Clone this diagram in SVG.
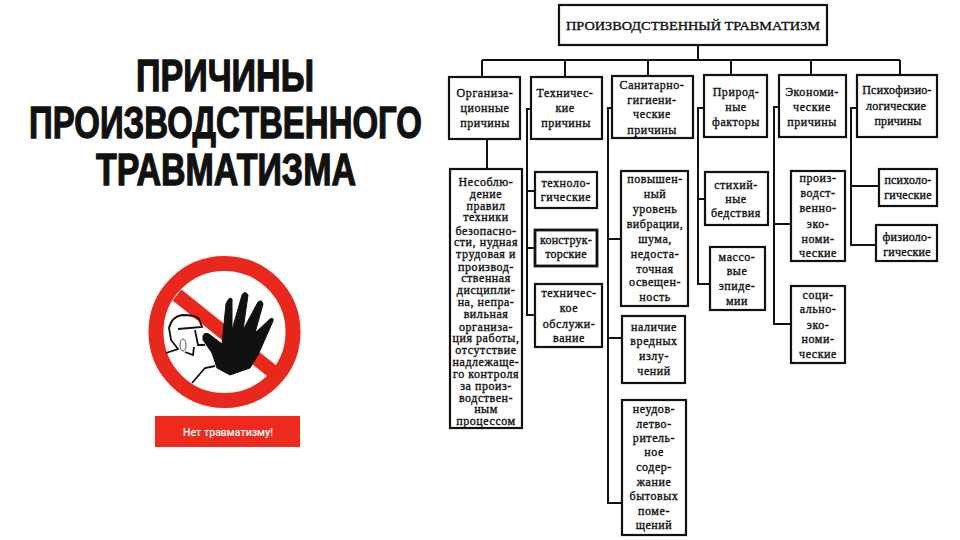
<svg xmlns="http://www.w3.org/2000/svg" width="960" height="540" viewBox="0 0 960 540">
<style>
.b{fill:#fff;stroke:#111;stroke-width:2.200}
.c{fill:none;stroke:#111;stroke-width:2}
.t{font-family:"Liberation Serif","Times New Roman",serif;font-size:12px;letter-spacing:.55px;fill:#111;text-anchor:middle;stroke:#111;stroke-width:.35}
.h{font-family:"Liberation Sans",Arial,sans-serif;font-weight:bold;font-size:45px;fill:#111;stroke:#111;stroke-width:1.300}
</style>
<rect width="960" height="540" fill="#fff"/>
<g id="title">
<text class="h" x="136" y="91" textLength="178" lengthAdjust="spacingAndGlyphs">ПРИЧИНЫ</text>
<text class="h" x="29" y="138" textLength="393" lengthAdjust="spacingAndGlyphs">ПРОИЗВОДСТВЕННОГО</text>
<text class="h" x="96" y="185" textLength="260" lengthAdjust="spacingAndGlyphs">ТРАВМАТИЗМА</text>
</g>
<g id="sign">
<path d="M177 295L277 375" stroke="#e8281c" stroke-width="14" fill="none"/>
<circle cx="224.500" cy="332" r="68.500" fill="none" stroke="#e8281c" stroke-width="15"/>
<path d="M166 353L178 349L171 340L169 328Q172 316 183 315Q195 315 199 319L202 327L178 329M195 330L198 345L205 345M185 352L193 355L194 347M192 383L205 368L215 366" fill="none" stroke="#111" stroke-width="1.800"/>
<ellipse cx="183" cy="345" rx="3" ry="6" fill="none" stroke="#555"/>
<path d="M203 336Q204 332 209 334L222 344L226 304Q229 296 232 299L232 330L242 295Q245 290 248 295L243 330L258 302Q262 299 263 304L255 333L270 319Q274 317 273 321L258 355L250 368L230 375L217 368L212 353L203 340Z" fill="#111" stroke="#111" stroke-linejoin="round"/>
<rect x="155" y="416" width="145" height="31" fill="#ee2a1e"/>
<text x="228" y="436" font-family="Roboto,'Liberation Sans',sans-serif" font-size="11.500" font-weight="500" fill="#fff" text-anchor="middle" textLength="90" lengthAdjust="spacingAndGlyphs">Нет травматизму!</text>
</g>
<g id="connectors">
<path class="c" d="M698 45V60M482 60H900M482 60V77M565 60V77M648 60V76M731 60V75M811 60V75M900 60V75M487 139V169"/>
<path class="c" d="M531 109H527V315H535M527 191H535M527 248H535"/>
<path class="c" d="M612 108H608V503H621M608 239H621M608 338H622"/>
<path class="c" d="M704 108H698V284H710M698 199H705"/>
<path class="c" d="M779 107H774V324H791M774 224H791"/>
<path class="c" d="M857 108H851V245H876M851 186H879"/>
</g>
<g id="n-root"><rect class="b" x="559" y="5" width="268" height="40"/><text class="t" x="693" y="30" style="font-size:13.500px;letter-spacing:0" textLength="254" lengthAdjust="spacingAndGlyphs">ПРОИЗВОДСТВЕННЫЙ ТРАВМАТИЗМ</text></g>
<g id="n-org"><rect class="b" x="449" y="77" width="71" height="62"/><text class="t"><tspan x="485" y="97">Организа-</tspan><tspan x="485" y="112">ционные</tspan><tspan x="485" y="127">причины</tspan></text></g>
<g id="n-tech"><rect class="b" x="531" y="77" width="71" height="62"/><text class="t"><tspan x="565" y="97">Техничес-</tspan><tspan x="565" y="112">кие</tspan><tspan x="566" y="127">причины</tspan></text></g>
<g id="n-san"><rect class="b" x="612" y="76" width="81" height="62"/><text class="t"><tspan x="652" y="89">Санитарно-</tspan><tspan x="652" y="104">гигиени-</tspan><tspan x="652" y="118">ческие</tspan><tspan x="652" y="134">причины</tspan></text></g>
<g id="n-nat"><rect class="b" x="704" y="75" width="63" height="62"/><text class="t"><tspan x="736" y="96">Природ-</tspan><tspan x="736" y="111">ные</tspan><tspan x="736" y="126">факторы</tspan></text></g>
<g id="n-econ"><rect class="b" x="779" y="75" width="67" height="62"/><text class="t"><tspan x="812" y="96">Экономи-</tspan><tspan x="812" y="111">ческие</tspan><tspan x="812" y="126">причины</tspan></text></g>
<g id="n-psy"><rect class="b" x="857" y="75" width="80" height="62"/><text class="t" style="letter-spacing:.2px"><tspan x="897" y="94">Психофизио-</tspan><tspan x="896" y="110">логические</tspan><tspan x="898" y="125">причины</tspan></text></g>
<g id="n-org1"><rect class="b" x="450" y="169" width="72" height="259"/><text class="t"><tspan x="486" y="186">Несоблю-</tspan><tspan x="486" y="198">дение</tspan><tspan x="486" y="210">правил</tspan><tspan x="486" y="221">техники</tspan><tspan x="486" y="235">безопасно-</tspan><tspan x="486" y="246">сти, нудная</tspan><tspan x="486" y="258">трудовая и</tspan><tspan x="486" y="271">производ-</tspan><tspan x="486" y="282">ственная</tspan><tspan x="486" y="294">дисципли-</tspan><tspan x="486" y="306">на, непра-</tspan><tspan x="486" y="318">вильная</tspan><tspan x="486" y="331">организа-</tspan><tspan x="486" y="342">ция работы,</tspan><tspan x="486" y="354">отсутствие</tspan><tspan x="486" y="366">надлежаще-</tspan><tspan x="486" y="378">го контроля</tspan><tspan x="486" y="390">за произ-</tspan><tspan x="486" y="402">водствен-</tspan><tspan x="486" y="413">ным</tspan><tspan x="486" y="425">процессом</tspan></text></g>
<g id="n-t1"><rect class="b" x="535" y="172" width="62" height="36"/><text class="t"><tspan x="566" y="187">техноло-</tspan><tspan x="566" y="201">гические</tspan></text></g>
<g id="n-t2"><rect class="b" x="535" y="230" width="62" height="36" style="stroke-width:2.800"/><text class="t" style="letter-spacing:.2px"><tspan x="566" y="244">конструк-</tspan><tspan x="566" y="258">торские</tspan></text></g>
<g id="n-t3"><rect class="b" x="535" y="284" width="67" height="63"/><text class="t"><tspan x="569" y="297">техничес-</tspan><tspan x="569" y="312">кое</tspan><tspan x="569" y="328">обслужи-</tspan><tspan x="569" y="342">вание</tspan></text></g>
<g id="n-s1"><rect class="b" x="621" y="171" width="67" height="135"/><text class="t"><tspan x="655" y="183">повышен-</tspan><tspan x="655" y="198">ный</tspan><tspan x="655" y="213">уровень</tspan><tspan x="655" y="228">вибрации,</tspan><tspan x="655" y="243">шума,</tspan><tspan x="655" y="258">недоста-</tspan><tspan x="655" y="273">точная</tspan><tspan x="655" y="286">освещен-</tspan><tspan x="655" y="301">ность</tspan></text></g>
<g id="n-s2"><rect class="b" x="622" y="316" width="63" height="67"/><text class="t"><tspan x="654" y="331">наличие</tspan><tspan x="654" y="345">вредных</tspan><tspan x="654" y="360">излу-</tspan><tspan x="654" y="375">чений</tspan></text></g>
<g id="n-s3"><rect class="b" x="622" y="400" width="64" height="135"/><text class="t"><tspan x="654" y="413">неудов-</tspan><tspan x="654" y="428">летво-</tspan><tspan x="654" y="442">ритель-</tspan><tspan x="654" y="456">ное</tspan><tspan x="654" y="471">содер-</tspan><tspan x="654" y="486">жание</tspan><tspan x="654" y="500">бытовых</tspan><tspan x="654" y="515">поме-</tspan><tspan x="654" y="529">щений</tspan></text></g>
<g id="n-n1"><rect class="b" x="705" y="172" width="63" height="53"/><text class="t"><tspan x="736" y="189">стихий-</tspan><tspan x="736" y="203">ные</tspan><tspan x="736" y="217">бедствия</tspan></text></g>
<g id="n-n2"><rect class="b" x="710" y="247" width="55" height="63"/><text class="t"><tspan x="737" y="261">массо-</tspan><tspan x="737" y="275">вые</tspan><tspan x="737" y="290">эпиде-</tspan><tspan x="737" y="305">мии</tspan></text></g>
<g id="n-e1"><rect class="b" x="791" y="171" width="54" height="90"/><text class="t"><tspan x="818" y="182">произ-</tspan><tspan x="818" y="197">водст-</tspan><tspan x="818" y="212">венно-</tspan><tspan x="818" y="228">эко-</tspan><tspan x="818" y="243">номи-</tspan><tspan x="818" y="257">ческие</tspan></text></g>
<g id="n-e2"><rect class="b" x="791" y="286" width="54" height="77"/><text class="t"><tspan x="818" y="299">соци-</tspan><tspan x="818" y="313">ально-</tspan><tspan x="818" y="329">эко-</tspan><tspan x="818" y="343">номи-</tspan><tspan x="818" y="358">ческие</tspan></text></g>
<g id="n-p1"><rect class="b" x="879" y="169" width="58" height="37"/><text class="t" style="letter-spacing:.2px"><tspan x="908" y="184">психоло-</tspan><tspan x="908" y="199">гические</tspan></text></g>
<g id="n-p2"><rect class="b" x="876" y="225" width="61" height="36"/><text class="t" style="letter-spacing:.2px"><tspan x="907" y="241">физиоло-</tspan><tspan x="907" y="256">гические</tspan></text></g>
</svg>
